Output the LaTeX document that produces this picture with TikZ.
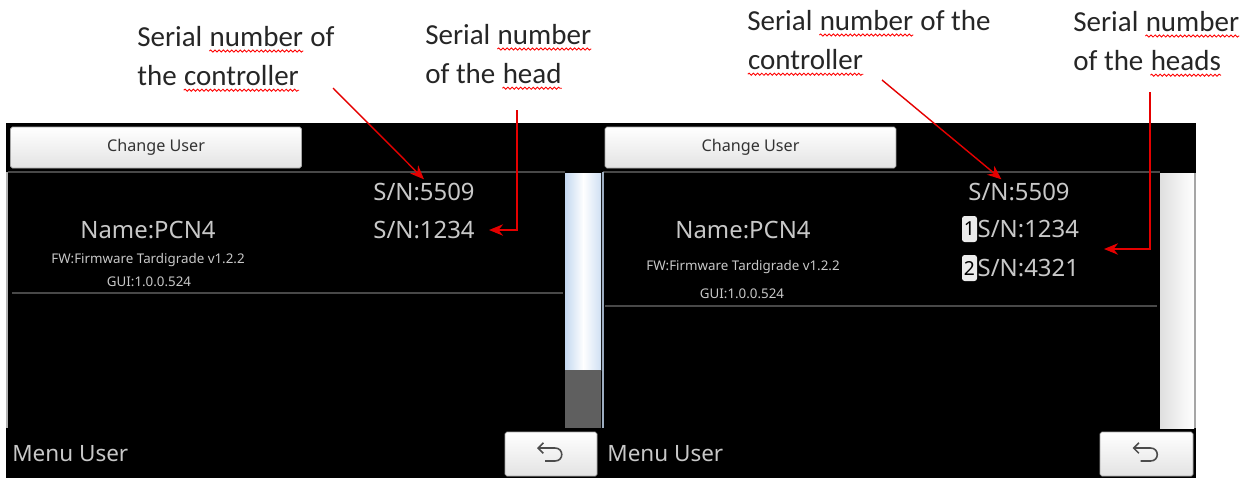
\documentclass[tikz,border=0pt]{standalone}
\usepackage{fontspec}
\setmainfont{Carlito}
\newfontfamily\screenfont{Noto Sans}
\usepackage{tikz}
\usetikzlibrary{arrows.meta,decorations.pathmorphing}
\definecolor{screengray}{RGB}{200,200,200}
\definecolor{linegray}{RGB}{72,72,72}
\definecolor{scrollblue}{RGB}{196,216,240}
\definecolor{scrolldark}{RGB}{95,95,95}
\tikzstyle{screen} = [rectangle, fill=black, inner sep=0pt]
\tikzstyle{touch button} = [rectangle, rounded corners=1pt, draw=gray!70, top color=white, bottom color=gray!22, inner sep=0pt, text=black!80, font=\screenfont\fontsize{9.2}{11}\selectfont]
\tikzstyle{screen text} = [text=screengray, inner sep=2pt, font=\screenfont\fontsize{13.6}{16}\selectfont]
\tikzstyle{small text} = [text=screengray, inner sep=1pt, font=\screenfont\fontsize{7.6}{9}\selectfont]
\tikzstyle{menu text} = [text=screengray, inner sep=0pt, anchor=west, font=\screenfont\fontsize{12.8}{15}\selectfont]
\tikzstyle{badge} = [rectangle, rounded corners=1.5pt, fill=gray!15, text=black, inner sep=0pt, minimum width=0.3cm, minimum height=0.52cm, font=\screenfont\fontsize{11}{12}\selectfont]
\tikzstyle{callout text} = [align=left, inner sep=0pt, anchor=west, text=black!85, font=\fontsize{16.5}{22.3}\selectfont]
\tikzstyle{red arrow} = [red!90!black, line width=0.8pt, -{Stealth[length=8pt,width=6.5pt]}]
\tikzstyle{divider} = [draw=linegray, line width=1.2pt]
\tikzstyle{back icon} = [draw=black!70, line width=0.9pt, {Straight Barb[length=3pt,width=6pt]}-]

% word with a spell-check squiggle under it
\newcommand{\spell}[1]{\tikz[baseline=(w.base)]{\node[inner sep=0pt] (w) {#1}; \draw[red, line width=0.5pt, decorate, decoration={snake, amplitude=0.6pt, segment length=2.4pt}] ([yshift=-2.6pt]w.base west) -- ([yshift=-2.6pt]w.base east);}}

\begin{document}
\begin{tikzpicture}[x=0.02cm, y=-0.02cm]
    \fill[white] (0,0) rectangle (1256,478);
    \useasboundingbox (0,0) rectangle (1256,478);

    % the two screens
    \node (scr) [screen, minimum width=23.8cm, minimum height=7.1cm] at (601,300.5) { };
    \node (cuL) [touch button, minimum width=5.82cm, minimum height=0.82cm] at (156,147.5) {Change User};
    \node (cuR) [touch button, minimum width=5.82cm, minimum height=0.82cm] at (750.5,147.5) {Change User};

    \draw[divider] (8,172) -- (565,172);
    \draw[divider] (603,172) -- (1160,172);
    \draw[divider] (12,293) -- (563,293);
    \draw[divider] (605,306) -- (1157,306);

    \shade[left color=scrollblue, right color=white] (565,173) rectangle (583.5,370);
    \shade[left color=white, right color=scrollblue!80!white] (583,173) rectangle (601,370);
    \fill[scrolldark] (565,370) rectangle (601,428);
    \shade[left color=gray!25, right color=white] (1160,173) rectangle (1194,428);
    \draw[gray!70, line width=1pt] (1195,173) -- (1195,428);
    \draw[gray!60, line width=0.8pt] (7,172) -- (7,428);
    \draw[scrollblue!80!black, line width=0.8pt] (603,172) -- (603,428);

    \node (snL1) [screen text] at (424,192) {S/N:5509};
    \node (snL2) [screen text] at (424,230) {S/N:1234};
    \node (nameL) [screen text] at (148,230) {Name:PCN4};
    \node (fwL) [small text] at (148,260) {FW:Firmware Tardigrade v1.2.2};
    \node (guiL) [small text] at (149,282) {GUI:1.0.0.524};

    \node (snR1) [screen text] at (1019,192) {S/N:5509};
    \node (bdR1) [badge] at (969.5,229) {1};
    \node (bdR2) [badge] at (969.5,268) {2};
    \node (snR2) [screen text, anchor=west, xshift=-2] at (bdR1.east) {S/N:1234};
    \node (snR3) [screen text, anchor=west, xshift=-2] at (bdR2.east) {S/N:4321};
    \node (nameR) [screen text] at (743,230) {Name:PCN4};
    \node (fwR) [small text] at (743,267) {FW:Firmware Tardigrade v1.2.2};
    \node (guiR) [small text] at (742,294) {GUI:1.0.0.524};

    \node (menuL) [menu text] at (12,454) {Menu User};
    \node (menuR) [menu text] at (607,454) {Menu User};
    \node (backL) [touch button, minimum width=1.84cm, minimum height=0.88cm] at (551,454) { };
    \node (backR) [touch button, minimum width=1.86cm, minimum height=0.88cm] at (1146.5,454) { };
    \foreach \b in {backL, backR}
        \draw[back icon] ([shift={(-14,-6)}]\b.center) -- ([shift={(4,-6)}]\b.center) .. controls ([shift={(13,-6)}]\b.center) and ([shift={(13,7)}]\b.center) .. ([shift={(4,7)}]\b.center) -- ([shift={(-6,7)}]\b.center);

    % callouts
    \node (capL1) [callout text] at (137,59) {Serial \spell{number} of\\the \spell{controller}};
    \node (capL2) [callout text] at (425,57) {Serial \spell{number}\\of the \spell{head}};
    \node (capR1) [callout text] at (747,43) {Serial \spell{number} of the\\\spell{controller}};
    \node (capR2) [callout text] at (1073,44) {Serial \spell{number}\\of the \spell{heads}};

    \coordinate (ptL1) at (333,88);
    \coordinate (ptL2) at (517,110);
    \coordinate (ptR1) at (882,80);
    \coordinate (ptR2) at (1150,92);
    \coordinate (tipR2) at (1104,249);

    \draw[red arrow] (ptL1) -- (snL1.north);
    \draw[red arrow] (ptL2) |- ([xshift=6]snL2.east);
    \draw[red arrow] (ptR1) -- ([xshift=-10]snR1.north);
    \draw[red arrow] (ptR2) |- (tipR2);
\end{tikzpicture}
\end{document}
